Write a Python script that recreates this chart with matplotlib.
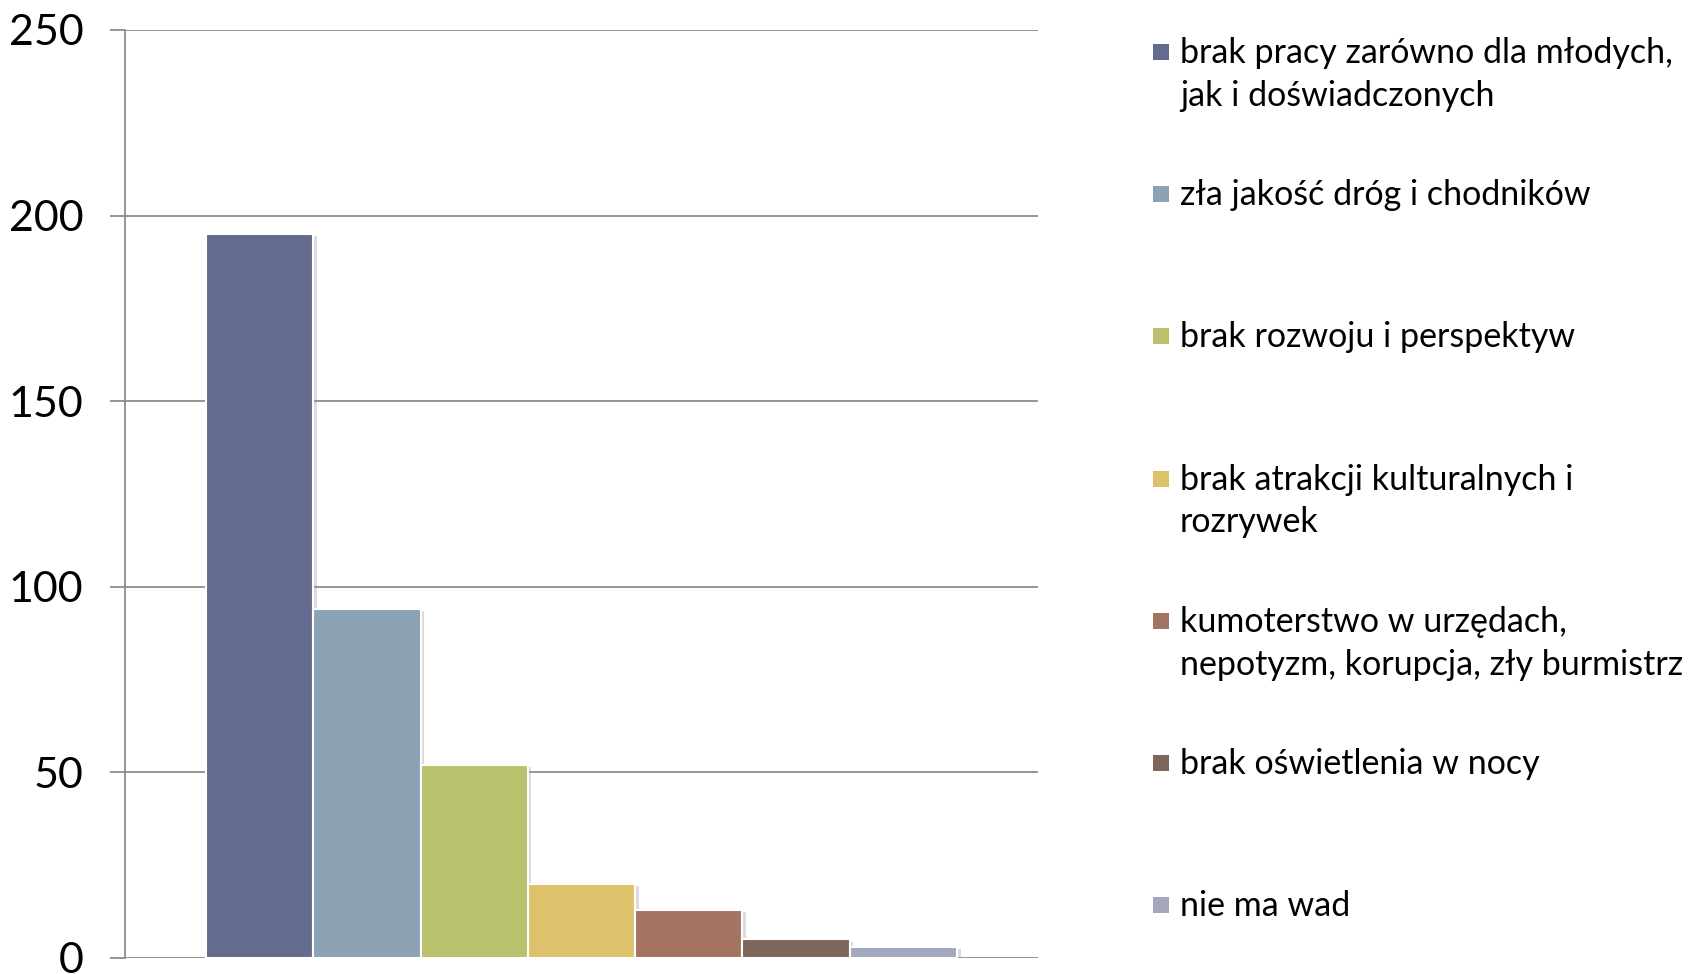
import matplotlib.pyplot as plt
import matplotlib.patheffects as pe
from matplotlib.patches import Rectangle

plt.rcParams['font.family'] = ['Lato', 'DejaVu Sans']

# dane z wykresu
labels = [
    "brak pracy zarówno dla młodych,\njak i doświadczonych",
    "zła jakość dróg i chodników",
    "brak rozwoju i perspektyw",
    "brak atrakcji kulturalnych i\nrozrywek",
    "kumoterstwo w urzędach,\nnepotyzm, korupcja, zły burmistrz",
    "brak oświetlenia w nocy",
    "nie ma wad",
]
values = [195, 94, 52, 20, 13, 5, 3]
colors = ["#636b8e", "#8ca3b6", "#bac16c", "#dec26b", "#a37462", "#7f665d", "#a3a7be"]
yticks = [0, 50, 100, 150, 200, 250]

fig = plt.figure(figsize=(16.9, 9.74), dpi=100)
ax = fig.add_axes([0.07396, 0.01643, 0.5403, 0.95277])

shadow = [pe.SimplePatchShadow(offset=(2.5, -1.5), shadow_rgbFace="#999999", alpha=0.35), pe.Normal()]
for i, (v, c) in enumerate(zip(values, colors)):
    b = ax.bar(i, v, width=1.0, color=c, edgecolor="white", linewidth=1.5, zorder=3)
    b[0].set_path_effects(shadow)

ax.set_xlim(-1.255, 7.255)
ax.set_ylim(0, 250)
ax.set_yticks(yticks)
ax.set_yticklabels([str(t) for t in yticks], fontsize=31)
ax.set_xticks([])
ax.yaxis.grid(True, color="#8c8c8c", linewidth=1.3, zorder=0)
ax.tick_params(axis="y", length=11, width=1.3, color="#8c8c8c", pad=19)
for s in ["top", "right", "bottom"]:
    ax.spines[s].set_visible(False)
ax.spines["left"].set_color("#8c8c8c")
ax.spines["left"].set_linewidth(1.3)

# legenda po prawej stronie
W, H = 1690, 974
y0 = 48 * 1.0778
step = 132 * 1.0778
for k, (lab, c) in enumerate(zip(labels, colors)):
    yc = y0 + k * step
    fig.patches.append(Rectangle((1153 / W, 1 - (yc + 8) / H), 16 / W, 16 / H,
                                 transform=fig.transFigure, facecolor=c, edgecolor="none"))
    fig.text(1180 / W, 1 - (yc - 15) / H, lab, fontsize=24.5, va="top", ha="left",
             linespacing=1.42, color="black")

fig.savefig("out.png", dpi=100)
